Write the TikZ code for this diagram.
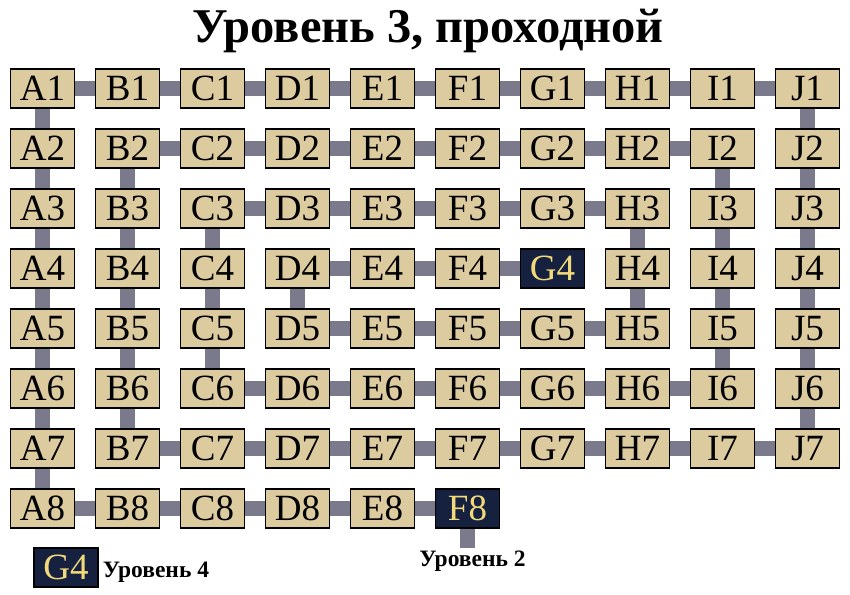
\documentclass[tikz,border=0pt]{standalone}
\usepackage{fontspec}
\setmainfont{Liberation Serif}
\usetikzlibrary{backgrounds}
\definecolor{boxfill}{HTML}{DDCBA0}
\definecolor{navy}{HTML}{15213F}
\definecolor{gold}{HTML}{F2DA7A}
\definecolor{linkc}{HTML}{7A7A8C}
\begin{document}
\begin{tikzpicture}[x=1pt,y=-1pt,
  cell/.style={draw=black, line width=1.2pt, fill=boxfill, minimum width=64pt, minimum height=39pt, inner sep=0pt, font=\fontsize{37}{37}\selectfont},
  dark/.style={cell, fill=navy, text=gold},
  link/.style={draw=linkc, line width=15pt},
  lbl/.style={font=\bfseries\fontsize{23.5}{23.5}\selectfont, inner sep=0pt}]
\useasboundingbox (0,0) rectangle (850,594);
\node[font=\bfseries\fontsize{48.5}{48.5}\selectfont] (title) at (428,31) {Уровень 3, проходной};
\foreach \c [count=\i from 0] in {A,B,C,D,E,F,G,H,I,J}{
  \foreach \r in {1,...,7}{
    \node[cell] (\c\r) at ({42.5+85*\i},{88.5+60*(\r-1)}) {\c\r};
  }
}
\foreach \c [count=\i from 0] in {A,B,C,D,E}{
  \node[cell] (\c8) at ({42.5+85*\i},508.5) {\c8};
}
\node[dark] (F8) at (467.5,508.5) {F8};
\node[dark] (G4x) at (552.5,268.5) {G4};
\node[dark] (legG4) at (66,567.5) {G4};
\node[lbl, anchor=base west] (leg4) at ([xshift=4pt,yshift=-10pt]legG4.east) {Уровень 4};
\coordinate (f8end) at (467.5,548);
\node[lbl, anchor=base] (lev2) at (472.5,566) {Уровень 2};
\begin{pgfonlayer}{background}
  % horizontal links
  \foreach \a/\b/\r in {A/B/1,B/C/1,C/D/1,D/E/1,E/F/1,F/G/1,G/H/1,H/I/1,I/J/1,
    B/C/2,C/D/2,D/E/2,E/F/2,F/G/2,G/H/2,H/I/2,
    C/D/3,D/E/3,E/F/3,F/G/3,G/H/3,
    D/E/4,E/F/4,
    D/E/5,E/F/5,F/G/5,G/H/5,
    C/D/6,D/E/6,E/F/6,F/G/6,G/H/6,H/I/6,
    B/C/7,C/D/7,D/E/7,E/F/7,F/G/7,G/H/7,H/I/7,I/J/7,
    A/B/8,B/C/8,C/D/8,D/E/8,E/F/8}{
    \draw[link] (\a\r) -- (\b\r);
  }
  \draw[link] (F4) -- (G4x);
  % vertical links
  \foreach \c/\p/\q in {A/1/2,A/2/3,A/3/4,A/4/5,A/5/6,A/6/7,A/7/8,
    B/2/3,B/3/4,B/4/5,B/5/6,B/6/7,
    C/3/4,C/4/5,C/5/6,
    D/4/5,
    H/3/4,H/4/5,
    I/2/3,I/3/4,I/4/5,I/5/6,
    J/1/2,J/2/3,J/3/4,J/4/5,J/5/6,J/6/7}{
    \draw[link] (\c\p) -- (\c\q);
  }
  \draw[link] (F8) -- (f8end);
\end{pgfonlayer}
\end{tikzpicture}
\end{document}
